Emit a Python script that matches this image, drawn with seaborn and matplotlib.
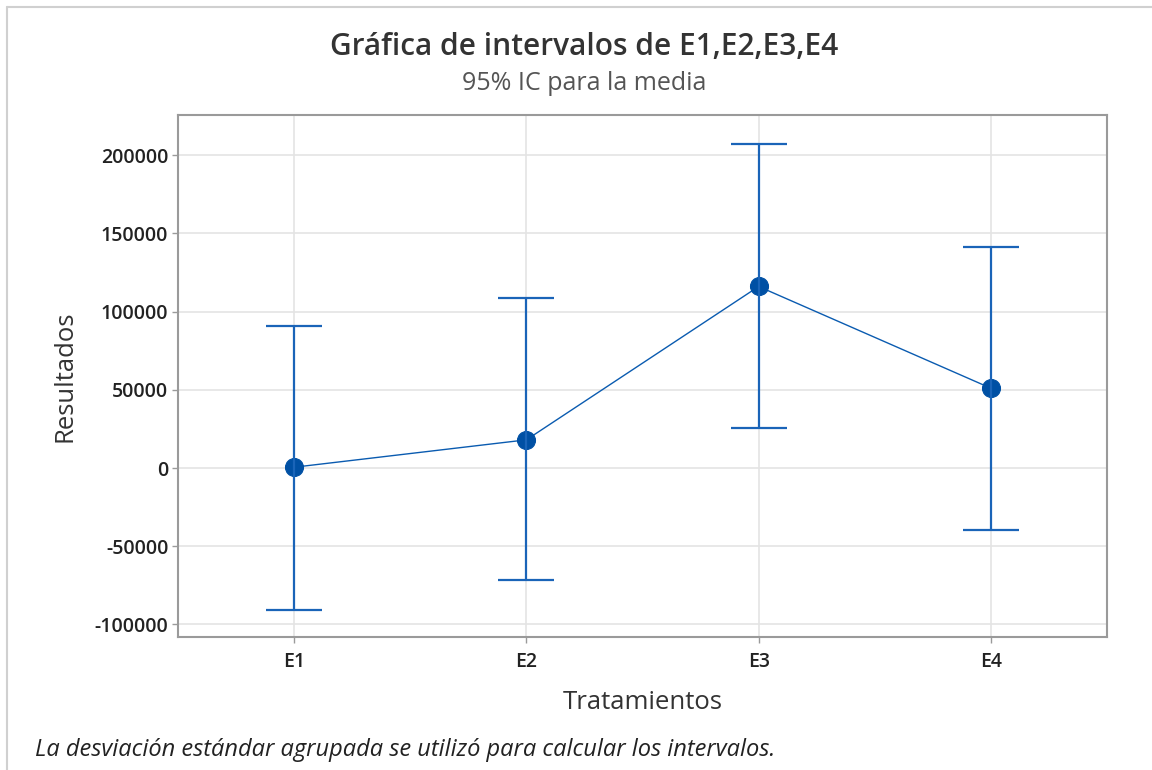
import matplotlib
matplotlib.use("Agg")
import matplotlib.pyplot as plt
import seaborn as sns
import pandas as pd
from matplotlib.lines import Line2D

# Data
categories = ["E1", "E2", "E3", "E4"]
means = [500, 18000, 116000, 51000]
ci_lower = [-90500, -71600, 25600, -39600]
ci_upper = [91000, 108600, 207000, 141200]
yticks = [-100000, -50000, 0, 50000, 100000, 150000, 200000]

df = pd.DataFrame({"Tratamientos": categories, "Resultados": means})

sns.set_theme(style="whitegrid")
plt.rcParams["font.family"] = ["Open Sans", "DejaVu Sans"]

fig = plt.figure(figsize=(11.52, 7.7), dpi=100)
ax = fig.add_axes([178/1152, 1-637/770, (1107-178)/1152, (637-115)/770])

blue = "#0A5BB0"
dot = "#0050A4"

yerr = [[m - lo for m, lo in zip(means, ci_lower)],
        [hi - m for m, hi in zip(means, ci_upper)]]
ax.errorbar(range(len(categories)), means, yerr=yerr, fmt="none",
            ecolor="#1A64B8", elinewidth=1.6, capsize=20, capthick=1.6, zorder=3)

sns.pointplot(data=df, x="Tratamientos", y="Resultados", ax=ax,
              color=blue, markers="o", linestyles="-", errorbar=None,
              markersize=13, linewidth=1.0, zorder=4)
for coll in ax.collections:
    coll.set_zorder(5)
for ln in ax.lines:
    if ln.get_marker() == "o":
        ln.set_markerfacecolor(dot)
        ln.set_markeredgecolor(dot)

ax.set_xlim(-0.5, 3.5)
ax.set_ylim(-108000, 225600)
ax.set_yticks(yticks)
ax.set_yticklabels([str(v) for v in yticks])

ax.grid(True, color="#e4e4e4", linewidth=1.2)
ax.set_axisbelow(True)
for s in ax.spines.values():
    s.set_color("#9a9a9a")
    s.set_linewidth(1.5)

ax.tick_params(axis="both", which="both", length=4, width=1, color="#9a9a9a",
               labelsize=14, labelcolor="#222222", left=True, bottom=True)
ax.tick_params(axis="y", pad=3)
ax.tick_params(axis="x", pad=7)
for lbl in ax.get_xticklabels() + ax.get_yticklabels():
    lbl.set_fontweight("semibold")

ax.set_xlabel("Tratamientos", fontsize=18.5, color="#333333")
ax.set_ylabel("Resultados", fontsize=18.5, color="#333333")
ax.xaxis.set_label_coords(0.5, (637-690)/522)
ax.yaxis.set_label_coords((77-178)/929, 0.5)

fig.text(584/1152, 1-47/770, "Gráfica de intervalos de E1,E2,E3,E4",
         ha="center", va="center", fontsize=21.5, fontweight="semibold", color="#333333")
fig.text(584/1152, 1-84/770, "95% IC para la media",
         ha="center", va="center", fontsize=18, color="#555555")
fig.text(35/1152, 1-750/770,
         "La desviación estándar agrupada se utilizó para calcular los intervalos.",
         ha="left", va="center", fontsize=17, style="italic", color="#222222")

# screenshot frame lines
fig.add_artist(Line2D([7/1152, 1], [1-7/770, 1-7/770], color="#d0d0d0", linewidth=1.5))
fig.add_artist(Line2D([7/1152, 7/1152], [0, 1-7/770], color="#d0d0d0", linewidth=1.5))

fig.savefig("out.png", dpi=100, facecolor="white")
